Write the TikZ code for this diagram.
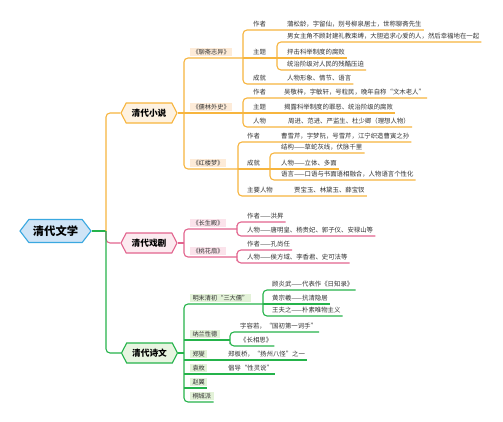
\documentclass[tikz,border=0pt]{standalone}
\usepackage{fontspec}
\setmainfont{Noto Sans CJK SC}
\usetikzlibrary{shapes.symbols}
\definecolor{ora}{HTML}{F7B53E}
\definecolor{orafill}{HTML}{FDEBD8}
\definecolor{orahex}{HTML}{FEF2E1}
\definecolor{pnk}{HTML}{E2648E}
\definecolor{pnkfill}{HTML}{FBE3EB}
\definecolor{pnkhex}{HTML}{FCEBF0}
\definecolor{grn}{HTML}{25B34B}
\definecolor{grnfill}{HTML}{E3F2D8}
\definecolor{grnhex}{HTML}{E8F5E1}
\definecolor{blu}{HTML}{3AA8E0}
\definecolor{blufill}{HTML}{CFE4F6}
\definecolor{txt}{HTML}{333333}
\tikzset{
  conn/.style={line width=1.1pt, rounded corners=4pt},
  oline/.style={conn, draw=ora},
  pline/.style={conn, draw=pnk},
  gline/.style={conn, draw=grn},
  hexbase/.style={shape=signal, signal to=east and west, line width=1.1pt, inner sep=1pt, text=black},
  hexroot/.style={hexbase, draw=blu, fill=blufill, signal pointer angle=105, minimum width=71pt, minimum height=23pt, font=\fontsize{11.3}{13}\selectfont\bfseries},
  hexone/.style={hexbase, signal pointer angle=125, minimum width=56pt, minimum height=20pt, font=\fontsize{8.7}{10}\selectfont\bfseries},
  leaf/.style={anchor=south west, inner xsep=2pt, inner ysep=2.3pt, text height=4.8pt, text depth=0.9pt, font=\fontsize{6.4}{7}\selectfont, text=txt},
  lab/.style={anchor=south west, outer xsep=0pt, outer ysep=1.8pt, inner xsep=2.5pt, inner ysep=1.2pt, text height=4.6pt, text depth=0.9pt, font=\fontsize{6.2}{7}\selectfont, text=txt},
  olab/.style={lab, fill=orafill},
  plab/.style={lab, fill=pnkfill},
  glab/.style={lab, fill=grnfill},
}
\begin{document}
\begin{tikzpicture}[x=1pt,y=-1pt]
\useasboundingbox[fill=white] (0,0) rectangle (503,421);

% ---------- main nodes ----------
\node[hexroot] (root) at (55.5,231) {清代文学};
\node[hexone, draw=ora, fill=orahex] (xs) at (149,113) {清代小说};
\node[hexone, draw=pnk, fill=pnkhex] (xj) at (149,243) {清代戏剧};
\node[hexone, draw=grn, fill=grnhex] (sw) at (149.5,353) {清代诗文};

\coordinate (j0) at (106,231);
\coordinate (oj) at (184,113);
\coordinate (pj) at (184,243);
\coordinate (gj) at (184,353);

% ---------- novels ----------
\node[olab] (lz) at (190,58) {《聊斋志异》};
\node[olab] (rl) at (190,113) {《儒林外史》};
\node[olab] (hl) at (190,169) {《红楼梦》};
\coordinate (lz-j) at (243,58);
\coordinate (lz2-j) at (277,58);
\coordinate (rl-j) at (243,113);
\coordinate (hl-j) at (238,169);
\coordinate (hl2-j) at (270,169);

\node[leaf] (lz-k1) at (251,30) {作者};
\node[leaf] (lz-v1) at (285,30) {蒲松龄，字留仙，别号柳泉居士，世称聊斋先生};
\node[leaf] (lz-k2) at (251,58) {主题};
\node[leaf] (lz-v2a) at (285,42) {男女主角不顾封建礼教束缚，大胆追求心爱的人，然后幸福地在一起};
\node[leaf] (lz-v2b) at (285,58) {抨击科举制度的腐败};
\node[leaf] (lz-v2c) at (285,70) {统治阶级对人民的残酷压迫};
\node[leaf] (lz-k3) at (251,84) {成就};
\node[leaf] (lz-v3) at (285,84) {人物形象、情节、语言};

\node[leaf] (rl-k1) at (251,98) {作者};
\node[leaf] (rl-v1) at (282,98) {吴敬梓，字敏轩，号粒民，晚年自称“文木老人”};
\node[leaf] (rl-k2) at (251,113) {主题};
\node[leaf] (rl-v2) at (282,113) {揭露科举制度的罪恶、统治阶级的腐败};
\node[leaf] (rl-k3) at (251,127) {人物};
\node[leaf] (rl-v3) at (286,127) {周进、范进、严监生、杜少卿（理想人物）};

\node[leaf] (hl-k1) at (245,142) {作者};
\node[leaf] (hl-v1) at (279,142) {曹雪芹，字梦阮，号雪芹，江宁织造曹寅之孙};
\node[leaf] (hl-k2) at (245,169) {成就};
\node[leaf] (hl-v2a) at (279,153) {结构——草蛇灰线，伏脉千里};
\node[leaf] (hl-v2b) at (279,169) {人物——立体、多面};
\node[leaf] (hl-v2c) at (279,180) {语言——口语与书面语相融合，人物语言个性化};
\node[leaf] (hl-k3) at (245,196) {主要人物};
\node[leaf] (hl-v3) at (292,196) {贾宝玉、林黛玉、薛宝钗};

% ---------- drama ----------
\node[plab] (cs) at (190,229) {《长生殿》};
\node[plab] (th) at (190,257) {《桃花扇》};
\coordinate (cs-j) at (237,229);
\coordinate (th-j) at (237,257);
\node[leaf] (cs-a) at (245,222) {作者——洪昇};
\node[leaf] (cs-b) at (245,236) {人物——唐明皇、杨贵妃、郭子仪、安禄山等};
\node[leaf] (th-a) at (245,250) {作者——孔尚任};
\node[leaf] (th-b) at (245,263) {人物——侯方域、李香君、史可法等};

% ---------- poetry & prose ----------
\node[glab] (sd) at (190,304) {明末清初“三大儒”};
\node[glab] (nl) at (190,340) {纳兰性德};
\node[glab] (zx) at (190,360) {郑燮};
\node[glab] (ym) at (190,374) {袁枚};
\node[glab] (zy) at (190,388) {赵翼};
\node[glab] (tc) at (190,402) {桐城派};
\coordinate (sd-j) at (263,304);
\coordinate (nl-j) at (230,340);
\node[leaf] (sd-a) at (270,290) {顾炎武——代表作《日知录》};
\node[leaf] (sd-b) at (270,304) {黄宗羲——抗清隐居};
\node[leaf] (sd-c) at (270,316) {王夫之——朴素唯物主义};
\node[leaf] (nl-a) at (238,332) {字容若，“国初第一词手”};
\node[leaf] (nl-b) at (238,346) {《长相思》};
\node[leaf] (zx-v) at (226,360) {郑板桥，“扬州八怪”之一};
\node[leaf] (ym-v) at (226,374) {倡导“性灵说”};

% ---------- connectors ----------
\draw[pline] (j0) |- (xj.west);
\draw[gline] (root.east) -- (j0);
\draw[oline] (j0) |- (xs.west);
\draw[gline] (j0) |- (sw.west);

\draw[oline] (xs.east) -- (oj);
\draw[oline] (lz-j) -| (oj) |- (hl-j);
\draw[oline] (oj) -- (rl-j);
\draw[oline] (lz-j) -- (lz2-j) -- (lz-v2b.south east);
\draw[oline] (lz-v1.south east) -| (lz-j) |- (lz-v3.south east);
\draw[oline] (lz-v2a.south east) -| (lz2-j) |- (lz-v2c.south east);
\draw[oline] (rl-j) -- (rl-v2.south east);
\draw[oline] (rl-v1.south east) -| (rl-j) |- (rl-v3.south east);
\draw[oline] (hl-j) -- (hl2-j) -- (hl-v2b.south east);
\draw[oline] (hl-v1.south east) -| (hl-j) |- (hl-v3.south east);
\draw[oline] (hl-v2a.south east) -| (hl2-j) |- (hl-v2c.south east);

\draw[pline] (xj.east) -- (pj);
\draw[pline] (cs-j) -| (pj) |- (th-j);
\draw[pline] (cs-a.south east) -| (cs-j) |- (cs-b.south east);
\draw[pline] (th-a.south east) -| (th-j) |- (th-b.south east);

\draw[gline] (sw.east) -- (gj);
\draw[gline] (sd-j) -| (gj) |- (tc.south east);
\draw[gline] (sd-j) -- (sd-b.south east);
\draw[gline] (sd-a.south east) -| (sd-j) |- (sd-c.south east);
\draw[gline] (nl-j -| gj) -- (nl-j);
\draw[gline] (nl-a.south east) -| (nl-j) |- (nl-b.south east);
\draw[gline] (zx-v.south east -| gj) -- (zx-v.south east);
\draw[gline] (ym-v.south east -| gj) -- (ym-v.south east);
\draw[gline] (zy.south east -| gj) -- (zy.south east);
\end{tikzpicture}
\end{document}
